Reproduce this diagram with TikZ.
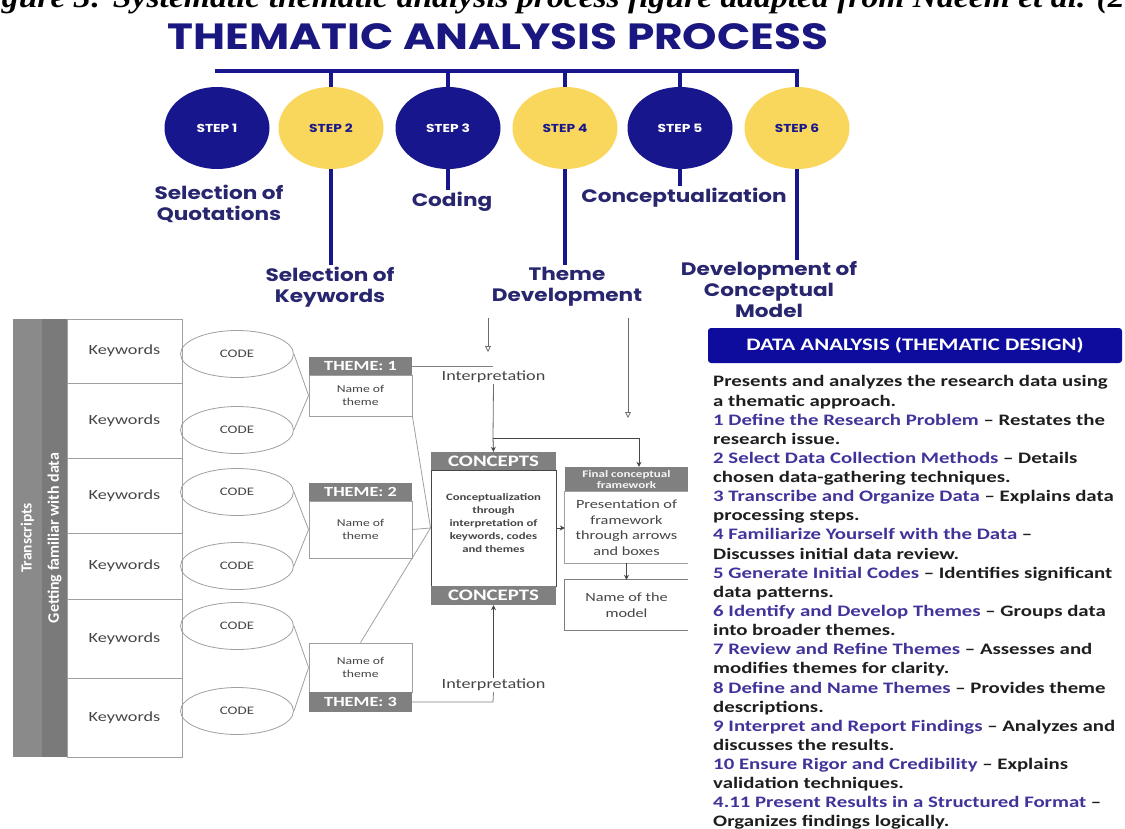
\documentclass[tikz,border=0pt]{standalone}
\usepackage{fontspec}
\setmainfont{Carlito}[FakeStretch=1.3]
\newfontfamily\carlnat{Carlito}
\newfontfamily\pop{Poppins}[FakeStretch=1.2]
\newfontfamily\capfont{Liberation Serif}[FakeStretch=1.12]
\usetikzlibrary{arrows.meta,shapes.geometric}
\definecolor{navy}{RGB}{24,22,140}
\definecolor{titleblue}{RGB}{26,24,128}
\definecolor{labnavy}{RGB}{40,38,110}
\definecolor{yel}{RGB}{249,214,92}
\definecolor{panelblue}{RGB}{14,12,156}
\definecolor{stepblue}{RGB}{64,52,155}
\definecolor{txt}{RGB}{30,30,30}
\definecolor{gbar}{RGB}{138,138,138}
\definecolor{gbar2}{RGB}{122,122,122}
\definecolor{ghead}{RGB}{128,128,128}
\definecolor{gline}{RGB}{160,160,160}
\definecolor{gtext}{RGB}{70,70,70}
\newcommand\bl[1]{\textcolor{stepblue}{#1}}
\tikzset{
  stepc/.style={ellipse, minimum width=105, minimum height=82, inner sep=0,
    font=\pop\bfseries\fontsize{11.5}{11.5}\selectfont},
  bar/.style={draw=navy, line width=4.5},
  steplab/.style={font=\pop\bfseries\fontsize{18}{21}\selectfont, text=labnavy, align=center, inner sep=2},
  kwbox/.style={draw=gline, line width=0.8, minimum width=115, inner sep=0, text=gtext,
    font=\fontsize{14}{14}\selectfont},
  codee/.style={ellipse, draw=gline, line width=0.8, minimum width=113, minimum height=47, inner sep=0,
    text=gtext, font=\fontsize{11.5}{11.5}\selectfont},
  thead/.style={fill=ghead, minimum width=103, inner sep=0, text=white,
    font=\bfseries\fontsize{14}{14}\selectfont},
  tbody/.style={draw=gline, line width=0.8, minimum width=103, inner sep=0, text=gtext, align=center,
    font=\fontsize{10.5}{12.5}\selectfont},
  conn/.style={draw=gline, line width=0.8},
  arr/.style={draw=gtext, line width=0.8, -{Stealth[length=5,width=5]}},
  oarr/.style={draw=gtext!80, line width=0.8, -{Triangle[open,length=6,width=6]}},
  interp/.style={text=gtext, font=\fontsize{14}{14}\selectfont, inner sep=1},
}
\begin{document}
\begin{tikzpicture}[x=1pt,y=-1pt]
\useasboundingbox (0,0) rectangle (1125,829);
\clip (0,0) rectangle (1125,829);
\fill[white] (0,0) rectangle (1125,829);
% caption (cut at top)
\node[anchor=base west, inner sep=0, font=\capfont\bfseries\itshape\fontsize{30}{30}\selectfont] (cap) at (-30,8)
  {Figure 3: Systematic thematic analysis process figure adapted from Naeem et al. (2023)};
% title
\node[anchor=base, inner sep=0, text=titleblue, font=\pop\bfseries\fontsize{36.5}{36.5}\selectfont] (title) at (498,50) {THEMATIC ANALYSIS PROCESS};
% steps
\node[stepc, fill=navy, text=white] (s1) at (217,128) {STEP 1};
\node[stepc, fill=yel, text=navy] (s2) at (331,128) {STEP 2};
\node[stepc, fill=navy, text=white] (s3) at (448,128) {STEP 3};
\node[stepc, fill=yel, text=navy] (s4) at (565,128) {STEP 4};
\node[stepc, fill=navy, text=white] (s5) at (680,128) {STEP 5};
\node[stepc, fill=yel, text=navy] (s6) at (797,128) {STEP 6};
\coordinate (barL) at (215,71);
\coordinate (barR) at (797,71);
\draw[bar] (barL) -- (barR) -- (s6.north);
\foreach \s in {s2,s3,s4,s5} \draw[bar] (\s.north) -- (\s.north |- barL);
% step labels
\node[steplab] (l1) at (219,204) {Selection of\\Quotations};
\node[steplab] (l3) at (452,202) {Coding};
\node[steplab] (l5) at (684,198) {Conceptualization};
\node[steplab] (l2) at (330,287) {Selection of\\Keywords};
\node[steplab] (l4) at (567,287) {Theme\\Development};
\node[steplab] (l6) at (769,290) {Development of\\Conceptual\\Model};
\draw[bar, line width=4] (s2.south) -- (s2.south |- l2.north);
\draw[bar, line width=4] (s3.south) -- (s3.south |- l3.north);
\draw[bar, line width=4] (s4.south) -- (s4.south |- l4.north);
\draw[bar, line width=4] (s5.south) -- (s5.south |- l5.north);
\draw[bar, line width=4] (s6.south) -- (s6.south |- l6.north);
% left gray bar
\node[fill=gbar, minimum width=29, minimum height=438, inner sep=0] (gb1) at (27.5,538) {};
\node[fill=gbar2, minimum width=25, minimum height=438, inner sep=0] (gb2) at (54.5,538) {};
\node[rotate=90, text=white, font=\carlnat\bfseries\fontsize{15.5}{15.5}\selectfont] (tr) at (gb1.center) {Transcripts};
\node[rotate=90, text=white, font=\carlnat\bfseries\fontsize{16}{16}\selectfont] (gf) at (gb2.center) {Getting familiar with data};
% keyword rows
\node[kwbox, minimum height=64] (k1) at (124.5,351) {Keywords};
\node[kwbox, minimum height=75] (k2) at (124.5,420.5) {Keywords};
\node[kwbox, minimum height=75] (k3) at (124.5,495.5) {Keywords};
\node[kwbox, minimum height=66] (k4) at (124.5,566) {Keywords};
\node[kwbox, minimum height=79] (k5) at (124.5,638.5) {Keywords};
\node[kwbox, minimum height=79] (k6) at (124.5,717.5) {Keywords};
% codes
\node[codee] (c1) at (237,354) {CODE};
\node[codee] (c2) at (237,430) {CODE};
\node[codee] (c3) at (237,492) {CODE};
\node[codee] (c4) at (237,566) {CODE};
\node[codee] (c5) at (237,626) {CODE};
\node[codee] (c6) at (237,711) {CODE};
% themes
\node[thead, minimum height=18] (t1h) at (360.5,366) {THEME: 1};
\node[tbody, minimum height=41] (t1b) at (360.5,395.5) {Name of\\theme};
\node[thead, minimum height=18] (t2h) at (360.5,492) {THEME: 2};
\node[tbody, minimum height=57] (t2b) at (360.5,529.5) {Name of\\theme};
\node[tbody, minimum height=49] (t3b) at (360.5,667.5) {Name of\\theme};
\node[thead, minimum height=20] (t3h) at (360.5,702) {THEME: 3};
\draw[conn] (c1.east) -- (t1b.west);
\draw[conn] (c2.east) -- (t1b.west);
\draw[conn] (c3.east) -- (t2b.west);
\draw[conn] (c4.east) -- (t2b.west);
\draw[conn] (c5.east) -- (t3b.west);
\draw[conn] (c6.east) -- (t3b.west);
% concepts
\node[thead, minimum width=125, minimum height=18, font=\bfseries\fontsize{16}{16}\selectfont] (cbh) at (493.5,461) {CONCEPTS};
\node[draw=gtext, line width=0.9, minimum width=125, minimum height=116, inner sep=0] (cb) at (493.5,528) {};
\node[align=center, inner sep=0, text=gtext, font=\bfseries\fontsize{9.8}{13}\selectfont] (cbt) at (493.5,523)
  {Conceptualization\\through\\interpretation of\\keywords, codes\\and themes};
\node[thead, minimum width=125, minimum height=19, font=\bfseries\fontsize{16}{16}\selectfont] (cbf) at (493.5,595.5) {CONCEPTS};
\draw[conn] (t1b.south east) -- (cb.west);
\draw[conn] (t2b.east) -- (cb.west);
\draw[conn] (t3b.north) -- (cb.west);
% interpretation
\node[interp] (i1) at (493.5,377) {Interpretation};
\node[interp] (i2) at (493.5,685) {Interpretation};
\coordinate (j1) at (493,366);
\coordinate (j2) at (493,438);
\coordinate (j3) at (639,438);
\coordinate (j4) at (493,702);
\coordinate (a1s) at (488,318);
\coordinate (a1e) at (488,352);
\coordinate (a2s) at (628,318);
\coordinate (a2e) at (628,418);
\draw[conn, draw=gline!80!black] (t1h.east) -- (j1);
\draw[conn, draw=gline!80!black] (t3h.east) -- (j4) -- (i2.south);
\draw[oarr] (a1s) -- (a1e);
\draw[oarr] (a2s) -- (a2e);
% final framework
\node[fill=ghead, minimum width=123, minimum height=25, inner sep=0, align=center, text=white!92!gray,
  font=\bfseries\fontsize{10}{10.5}\selectfont] (fh) at (626.5,479.5) {Final conceptual\\framework};
\node[minimum width=123, minimum height=71, inner sep=0, align=center, text=gtext,
  font=\fontsize{12.5}{15.5}\selectfont] (fb) at (626.5,527.5) {Presentation of\\framework\\through arrows\\and boxes};
\draw[conn] (fb.north east) -- (fb.north west) -- (fb.south west) -- (fb.south east);
\node[minimum width=123, minimum height=50, inner sep=0, align=center, text=gtext,
  font=\fontsize{12.5}{15.5}\selectfont] (nm) at (626.5,605) {Name of the\\model};
\draw[conn, draw=gtext!70] (nm.north east) -- (nm.north west) -- (nm.south west) -- (nm.south east);
\draw[conn, draw=gtext!80] (i1.south) -- (j2);
\draw[arr] (j2) -- (cbh.north);
\draw[arr] (j2) -- (j3) -- (j3 |- fh.north);
\draw[arr] (cb.east) -- (fb.west |- cb.east);
\draw[arr] (fb.south) -- (nm.north);
\draw[arr] (i2.north) -- (cbf.south);
% right panel
\node[fill=panelblue, rounded corners=3, minimum width=414, minimum height=35, inner sep=0, text=white,
  font=\bfseries\fontsize{17.5}{17.5}\selectfont] (ph) at (915,345.5) {DATA ANALYSIS (THEMATIC DESIGN)};
\node[anchor=north west, inner sep=0, align=left, text=txt, font=\bfseries\fontsize{16}{19.13}\selectfont] (pt) at (713,375.5)
{Presents and analyzes the research data using\\
a thematic approach.\\
\bl{1 Define the Research Problem} -- Restates the\\
research issue.\\
\bl{2 Select Data Collection Methods} -- Details\\
chosen data-gathering techniques.\\
\bl{3 Transcribe and Organize Data} -- Explains data\\
processing steps.\\
\bl{4 Familiarize Yourself with the Data} --\\
Discusses initial data review.\\
\bl{5 Generate Initial Codes} -- Identifies significant\\
data patterns.\\
\bl{6 Identify and Develop Themes} -- Groups data\\
into broader themes.\\
\bl{7 Review and Refine Themes} -- Assesses and\\
modifies themes for clarity.\\
\bl{8 Define and Name Themes} -- Provides theme\\
descriptions.\\
\bl{9 Interpret and Report Findings} -- Analyzes and\\
discusses the results.\\
\bl{10 Ensure Rigor and Credibility} -- Explains\\
validation techniques.\\
\bl{4.11 Present Results in a Structured Format} --\\
Organizes findings logically.};
\end{tikzpicture}
\end{document}
